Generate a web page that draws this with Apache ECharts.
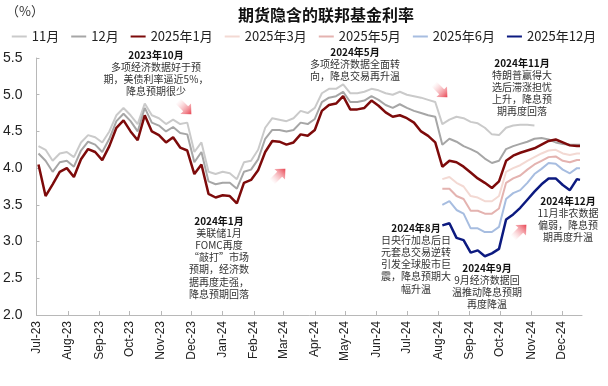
<!DOCTYPE html>
<html><head><meta charset="utf-8">
<script src="https://cdn.jsdelivr.net/npm/echarts@6/dist/echarts.min.js"></script>
<style>html,body{margin:0;padding:0;background:#fff}#c{width:608px;height:386px}</style>
</head><body><div id="c"></div>
<script>
// ---- data ----
const seriesNames = ['11月','12月','2025年1月','2025年3月','2025年5月','2025年6月','2025年12月'];
const dates = ['2023-07-03','2023-07-10','2023-07-17','2023-07-24','2023-07-31','2023-08-07','2023-08-14','2023-08-21','2023-08-28','2023-09-04',
'2023-09-11','2023-09-18','2023-09-25','2023-10-02','2023-10-09','2023-10-16','2023-10-23','2023-10-30','2023-11-06','2023-11-13',
'2023-11-20','2023-11-27','2023-12-04','2023-12-11','2023-12-18','2023-12-25','2024-01-01','2024-01-08','2024-01-15','2024-01-22',
'2024-01-29','2024-02-05','2024-02-12','2024-02-19','2024-02-26','2024-03-04','2024-03-11','2024-03-18','2024-03-25','2024-04-01',
'2024-04-08','2024-04-15','2024-04-22','2024-04-29','2024-05-06','2024-05-13','2024-05-20','2024-05-27','2024-06-03','2024-06-10',
'2024-06-17','2024-06-24','2024-07-01','2024-07-08','2024-07-15','2024-07-22','2024-07-29','2024-08-05','2024-08-12','2024-08-19',
'2024-08-26','2024-09-02','2024-09-09','2024-09-16','2024-09-23','2024-09-30','2024-10-07','2024-10-14','2024-10-21','2024-10-28',
'2024-11-04','2024-11-11','2024-11-18','2024-11-25','2024-12-02','2024-12-09','2024-12-16','2024-12-19'];
const nov = [4.3,4.25,4.1,4.2,4.22,4.15,4.35,4.45,4.42,4.35,
4.5,4.72,4.82,4.72,4.6,4.88,4.72,4.68,4.6,4.66,
4.6,4.62,4.22,4.35,3.95,3.92,3.95,3.93,3.85,4.08,
4.1,4.25,4.55,4.68,4.66,4.64,4.68,4.78,4.75,4.82,
5.02,5.08,5.08,5.14,5.02,5.02,5.04,5.08,5.06,5.02,
5.0,5.04,5.0,4.98,4.96,4.93,4.9,4.6,4.66,4.7,
4.68,4.63,4.61,4.55,4.46,4.45,4.55,4.58,4.59,4.59,
4.58];
const dec = [4.2,4.1,3.95,4.08,4.1,4.02,4.24,4.36,4.32,4.22,
4.4,4.64,4.74,4.64,4.5,4.82,4.62,4.58,4.5,4.56,
4.48,4.46,4.08,4.22,3.82,3.78,3.8,3.8,3.72,3.95,
3.98,4.12,4.4,4.52,4.52,4.5,4.52,4.62,4.6,4.67,
4.9,4.96,4.98,5.04,4.9,4.9,4.92,4.98,4.93,4.86,
4.82,4.87,4.82,4.78,4.75,4.72,4.7,4.32,4.4,4.36,
4.3,4.26,4.21,4.13,4.07,4.1,4.26,4.3,4.33,4.36,
4.4,4.41,4.39,4.35,4.33,4.32,4.32,4.32];
const jan25 = [4.05,3.62,3.78,3.95,4.0,3.88,4.12,4.26,4.22,4.11,
4.3,4.55,4.65,4.5,4.38,4.72,4.5,4.45,4.35,4.42,
4.28,4.24,3.92,4.05,3.65,3.6,3.63,3.62,3.52,3.8,
3.84,3.97,4.22,4.37,4.36,4.32,4.35,4.46,4.44,4.52,
4.78,4.86,4.88,4.98,4.8,4.8,4.82,4.92,4.85,4.76,
4.7,4.72,4.68,4.62,4.5,4.44,4.35,4.02,4.1,4.08,
4.02,3.94,3.86,3.8,3.73,3.82,4.1,4.17,4.21,4.24,
4.27,4.32,4.37,4.39,4.35,4.31,4.3,4.3];
const newStart = 57; // new contracts start on dates[57]
const mar25 = [3.85,3.88,3.8,3.75,3.62,3.6,3.55,3.55,3.62,3.95,4.0,4.04,4.1,4.15,4.2,4.24,4.25,4.2,4.18,4.2,4.2];
const may25 = [3.72,3.72,3.62,3.58,3.42,3.42,3.38,3.38,3.45,3.8,3.86,3.9,3.98,4.05,4.1,4.15,4.16,4.1,4.08,4.11,4.11];
const jun25 = [3.5,3.55,3.43,3.38,3.18,3.18,3.13,3.13,3.2,3.58,3.66,3.7,3.8,3.92,3.99,4.07,4.06,3.98,3.93,4.0,4.0];
const dec25 = [3.22,3.25,3.05,3.02,2.85,2.88,2.8,2.84,2.9,3.3,3.37,3.46,3.57,3.68,3.78,3.86,3.86,3.77,3.7,3.85,3.84];
const tickDates = ['2023-07-01','2023-08-01','2023-09-01','2023-10-01','2023-11-01','2023-12-01','2024-01-01','2024-02-01','2024-03-01',
'2024-04-01','2024-05-01','2024-06-01','2024-07-01','2024-08-01','2024-09-01','2024-10-01','2024-11-01','2024-12-01'];
const monthNames = ['Jan','Feb','Mar','Apr','May','Jun','Jul','Aug','Sep','Oct','Nov','Dec'];
const yTicks = [2.0,2.5,3.0,3.5,4.0,4.5,5.0,5.5];
const colors = ['#cacaca','#a6a6a6','#7d0a0a','#f3d9d3','#e4b3b0','#a7bde0','#0c1a80'];
const widths = [2,2,2.5,2,2,2,2.5];

// ---- build ----
function ts(s){const p=s.split('-').map(Number);return Date.UTC(p[0],p[1]-1,p[2]);}
function pairs(ds, vs){return vs.map((v,i)=>[ts(ds[i]), v]);}
const newDates = dates.slice(newStart);
const allData = [pairs(dates,nov),pairs(dates,dec),pairs(dates,jan25),
  pairs(newDates,mar25),pairs(newDates,may25),pairs(newDates,jun25),pairs(newDates,dec25)];
const order = [0,1,3,4,5,2,6]; // drawing z-order
const series = seriesNames.map((n,k)=>({
  name:n, type:'line', data:allData[k], showSymbol:false, symbol:'none',
  lineStyle:{color:colors[k], width:widths[k]}, itemStyle:{color:colors[k]},
  z: 2 + order.indexOf(k), animation:false
}));

const FONT_CN = '"Noto Sans CJK SC", sans-serif';
function note(cx, y0, head, lines){
  return [
    {type:'text', x:cx, y:y0, z:50, style:{text:head, textAlign:'center', textVerticalAlign:'middle',
      fontSize:10, fontWeight:'bold', fontFamily:FONT_CN, fill:'#111'}},
    {type:'text', x:cx, y:y0+6, z:50, style:{text:lines.join('\n'), textAlign:'center', textVerticalAlign:'top',
      fontSize:10, lineHeight:12.2, fontFamily:FONT_CN, fill:'#333'}}
  ];
}
function arrow(x, y, rot){
  return {type:'polygon', x:x, y:y, rotation:rot, z:40,
    shape:{points:[[-10,-3.5],[1,-3.5],[1,-7.5],[9,0],[1,7.5],[1,3.5],[-10,3.5]]},
    style:{fill:new echarts.graphic.LinearGradient(0,0,1,0,[{offset:0,color:'rgba(245,170,175,0)'},{offset:1,color:'#e8404e'}])}};
}
const graphics = [].concat(
  [{type:'text', left:6, top:5, style:{text:'（%）', fontSize:13, fontFamily:FONT_CN, fill:'#333'}}],
  note(156,55,'2023年10月',['多项经济数据好于预','期，美债利率逼近5%，','降息预期很少']),
  note(355,52,'2024年5月',['多项经济数据全面转','向，降息交易再升温']),
  note(522,63,'2024年11月',['特朗普赢得大','选后滞涨担忧','上升，降息预','期再度回落']),
  note(219,221,'2024年1月',['美联储1月','FOMC再度','“敲打”市场','预期，经济数','据再度走强，','降息预期回落']),
  note(416,228,'2024年8月',['日央行加息后日','元套息交易逆转','引发全球股市巨','震，降息预期大','幅升温']),
  note(487,268,'2024年9月',['9月经济数据回','温推动降息预期','再度降温']),
  note(568,201,'2024年12月',['11月非农数据','偏弱，降息预','期再度升温']),
  [arrow(185,108,-Math.PI/4), arrow(279,175,Math.PI/4), arrow(441,91,-Math.PI/4), arrow(520,231,Math.PI/4)]
);

const chart = echarts.init(document.getElementById('c'), null, {renderer:'canvas'});
chart.setOption({
  backgroundColor:'#fff',
  animation:false,
  title:{text:'期货隐含的联邦基金利率', left:233, top:2,
    textStyle:{fontSize:16, fontWeight:'bold', color:'#111', fontFamily:FONT_CN}},
  legend:{data:seriesNames, top:25, left:'center', width:600, icon:'rect', itemWidth:15, itemHeight:2, itemGap:12,
    textStyle:{fontSize:13, color:'#222', fontFamily:FONT_CN}},
  grid:{left:34, right:26, top:58, bottom:71},
  xAxis:{type:'value', min:ts('2023-07-01'), max:ts('2024-12-21'),
    axisLine:{show:true, lineStyle:{color:'#b8b8b8', width:1}},
    axisTick:{show:true, inside:true, length:4, lineStyle:{color:'#b8b8b8'}, customValues:tickDates.map(ts)},
    axisLabel:{rotate:90, fontSize:12, color:'#222', margin:6, fontFamily:'"Liberation Sans", Arial, sans-serif',
      customValues:tickDates.map(ts),
      formatter:function(v){const d=new Date(v);return monthNames[d.getUTCMonth()]+'-'+String(d.getUTCFullYear()).slice(2);}},
    splitLine:{show:false}},
  yAxis:{type:'value', min:yTicks[0], max:yTicks[yTicks.length-1], interval:0.5,
    axisLine:{show:true, lineStyle:{color:'#b8b8b8', width:1}},
    axisTick:{show:true, inside:true, length:3, lineStyle:{color:'#b8b8b8'}},
    axisLabel:{fontSize:14, color:'#222', margin:14, fontFamily:'"Liberation Sans", Arial, sans-serif',
      formatter:function(v){return v.toFixed(1);}},
    splitLine:{show:false}},
  graphic:graphics,
  series:series
});
</script></body></html>
